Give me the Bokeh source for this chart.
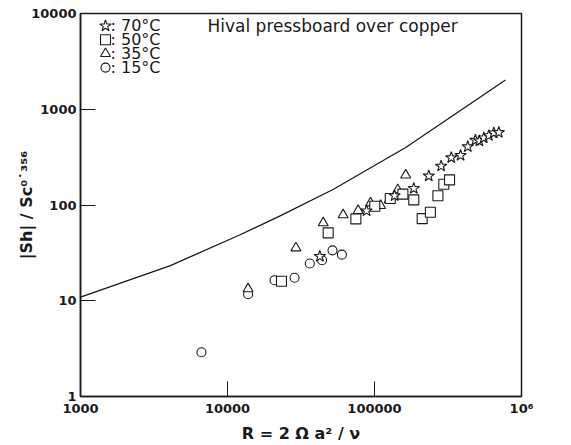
import math
from bokeh.plotting import figure
from bokeh.models import Label, FixedTicker, Range1d
from bokeh.embed import file_html
from bokeh.resources import INLINE

# ---- data ----
star_R = [42500, 88300, 137000, 185000, 234000, 284000, 333000, 385000, 431000,
          486000, 517000, 554000, 600000, 648000, 701000]
star_v = [29.1, 87, 125, 149, 201, 255, 312, 330, 406, 475, 467, 502, 531, 566, 572]

square_R = [23300, 48400, 74700, 100400, 128000, 156000, 185000, 211000, 240000,
            270000, 296000, 324000]
square_v = [16.0, 51.2, 71.6, 97, 117, 130, 113, 72, 84, 125, 165, 183]

tri_R = [13800, 29200, 44800, 61200, 77400, 94000, 110000, 126000, 144000, 163000]
tri_v = [13.3, 35.6, 65, 78.8, 87.3, 105, 98.4, 113, 144, 205]

circ_R = [6650, 13800, 20900, 28600, 36300, 44000, 51800, 60000]
circ_v = [2.9, 11.7, 16.4, 17.4, 24.5, 26.5, 33.6, 30.3]

curve_R = [1000, 4090, 12200, 23000, 52600, 163000, 778000]
curve_v = [10.9, 23.3, 48.9, 77.5, 146, 399, 2020]

x_ticks = [1000, 10000, 100000, 1000000]
x_tick_labels = ["1000", "10000", "100000", "10\u2076"]
y_ticks = [1, 10, 100, 1000, 10000]
y_tick_labels = ["1", "10", "100", "1000", "10000"]

legend_markers = ["star", "square", "triangle", "circle"]
legend_labels = [": 70\u00b0C", ": 50\u00b0C", ": 35\u00b0C", ": 15\u00b0C"]
title_text = "Hival pressboard over copper"
x_title = "R = 2 \u03a9 a\u00b2 / \u03bd"
y_title = "|Sh| / Sc\u2070\u02d9\u00b3\u2075\u2076"

# ---- layout ----
W, H = 571, 445
L, R_, T, B = 80, 50, 13, 46
FW, FH = W - L - R_, H - T - B
XMIN, XMAX, YMIN, YMAX = 1000, 1e6, 1, 10000

def px_to_x(px):
    return 10 ** (math.log10(XMIN) + (px - L) / FW * (math.log10(XMAX) - math.log10(XMIN)))

def py_to_y(py):
    return 10 ** (math.log10(YMIN) + (T + FH - py) / FH * (math.log10(YMAX) - math.log10(YMIN)))

INK = "#1a1a1a"
FONT = "DejaVu Sans"

p = figure(width=W, height=H, x_axis_type="log", y_axis_type="log",
           x_range=Range1d(XMIN, XMAX), y_range=Range1d(YMIN, YMAX),
           output_backend="svg", toolbar_location=None,
           min_border_left=L, min_border_right=R_, min_border_top=T, min_border_bottom=B)

p.grid.visible = False
p.outline_line_color = INK
p.outline_line_width = 1.5
p.background_fill_color = "white"
p.border_fill_color = "white"

for ax, ticks, labels in ((p.xaxis[0], x_ticks, x_tick_labels), (p.yaxis[0], y_ticks, y_tick_labels)):
    ax.ticker = FixedTicker(ticks=ticks, minor_ticks=[])
    ax.major_label_overrides = {t: s for t, s in zip(ticks, labels)}
    ax.major_tick_in = 15
    ax.major_tick_out = 0
    ax.minor_tick_in = 0
    ax.minor_tick_out = 0
    ax.major_tick_line_color = INK
    ax.axis_line_color = INK
    ax.axis_line_width = 1.5
    ax.major_label_text_font = FONT
    ax.major_label_text_font_style = "bold"
    ax.major_label_text_font_size = "13px"
    ax.major_label_text_color = INK
    ax.major_label_standoff = 4
    ax.axis_label_text_font = FONT
    ax.axis_label_text_font_style = "bold"
    ax.axis_label_text_font_size = "16px"
    ax.axis_label_text_color = INK

p.xaxis.axis_label = x_title
p.xaxis.axis_label_standoff = 5
p.yaxis.axis_label = y_title
p.yaxis.axis_label_standoff = -8

# theory curve
p.line(curve_R, curve_v, line_color=INK, line_width=1.3)

mk = dict(line_color=INK, fill_color="white", line_width=1.1)
p.scatter(circ_R, circ_v, marker="circle", size=9, **mk)
p.scatter(tri_R, tri_v, marker="triangle", size=10, **mk)
p.scatter(square_R, square_v, marker="square", size=10, **mk)
p.scatter(star_R, star_v, marker="star", size=12, **mk)

# legend (manual)
row_py = [25.5, 39.5, 53.5, 67.5]
msize = {"star": 12, "square": 10, "triangle": 10, "circle": 9}
for m, lab, py in zip(legend_markers, legend_labels, row_py):
    p.scatter([px_to_x(105)], [py_to_y(py)], marker=m, size=msize[m], **mk)
    p.add_layout(Label(x=px_to_x(110), y=py_to_y(py), text=lab, text_font=FONT,
                       text_font_size="16px", text_color=INK,
                       text_align="left", text_baseline="middle"))

p.add_layout(Label(x=px_to_x(207), y=py_to_y(26), text=title_text, text_font=FONT,
                   text_font_size="17px", text_color=INK,
                   text_align="left", text_baseline="middle"))

open("out.html", "w").write(file_html(p, INLINE))
